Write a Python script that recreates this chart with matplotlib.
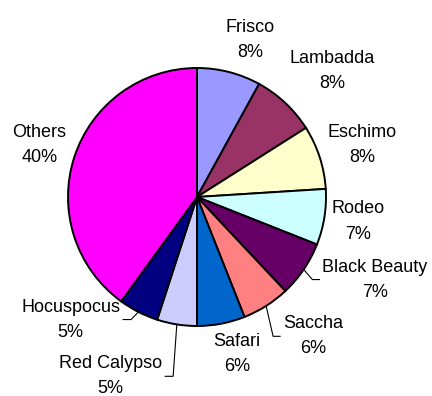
import matplotlib
matplotlib.use("Agg")
import matplotlib.pyplot as plt
import numpy as np

plt.rcParams['font.family'] = ['Liberation Sans', 'DejaVu Sans']

# Share of plantings by variety (%)
varieties = ["Frisco", "Lambadda", "Eschimo", "Rodeo", "Black Beauty",
             "Saccha", "Safari", "Red Calypso", "Hocuspocus", "Others"]
shares = [8, 8, 8, 7, 7, 6, 6, 5, 5, 40]
colors = ["#9999FF", "#993366", "#FFFFCC", "#CCFFFF", "#660066",
          "#FF8080", "#0066CC", "#CCCCFF", "#000080", "#FF00FF"]

# Label centres, in units of the pie radius
label_pos = [(0.41, 1.22), (1.05, 0.98), (1.28, 0.40), (1.25, -0.19),
             (1.38, -0.64), (0.90, -1.08), (0.31, -1.22), (-0.67, -1.39),
             (-0.98, -0.95), (-1.22, 0.40)]
# Labels that get a leader line back to their wedge
leader = {"Black Beauty", "Saccha", "Red Calypso", "Hocuspocus"}

W, H, DPI = 432, 396, 100
R_PX = 129.0
CX, CY = 197.0, 199.0  # centre, pixels from bottom-left

fig = plt.figure(figsize=(W / DPI, H / DPI), dpi=DPI)
ax = fig.add_axes([0, 0, 1, 1])

wedges, _ = ax.pie(shares, colors=colors, startangle=90, counterclock=False,
                   radius=1.0, center=(0, 0), frame=True,
                   wedgeprops=dict(edgecolor="black", linewidth=1.4))
ax.set_xlim(-CX / R_PX, (W - CX) / R_PX)
ax.set_ylim(-CY / R_PX, (H - CY) / R_PX)
ax.set_aspect("auto")
ax.axis("off")

texts = []
for name, val, (lx, ly) in zip(varieties, shares, label_pos):
    t = ax.text(lx, ly, f"{name}\n{val}%", ha="center", va="center",
                fontsize=13, linespacing=1.62, color="black")
    texts.append(t)

fig.canvas.draw()
renderer = fig.canvas.get_renderer()
inv = ax.transData.inverted()
px = 1.0 / R_PX
for w, name, t, (lx, ly) in zip(wedges, varieties, texts, label_pos):
    if name not in leader:
        continue
    mid = np.deg2rad((w.theta1 + w.theta2) / 2)
    sx, sy = np.cos(mid), np.sin(mid)
    bb = t.get_window_extent(renderer)
    (x0, _), (x1, _) = inv.transform([(bb.x0, bb.y0), (bb.x1, bb.y1)])
    if lx > sx:
        end = x0 - 3 * px
        elbow = end - 7 * px
    else:
        end = x1 + 3 * px
        elbow = end + 8 * px
    ax.plot([sx, elbow, end], [sy, ly, ly], color="black", lw=0.8,
            solid_joinstyle="miter")

fig.savefig("out.png", dpi=DPI)
